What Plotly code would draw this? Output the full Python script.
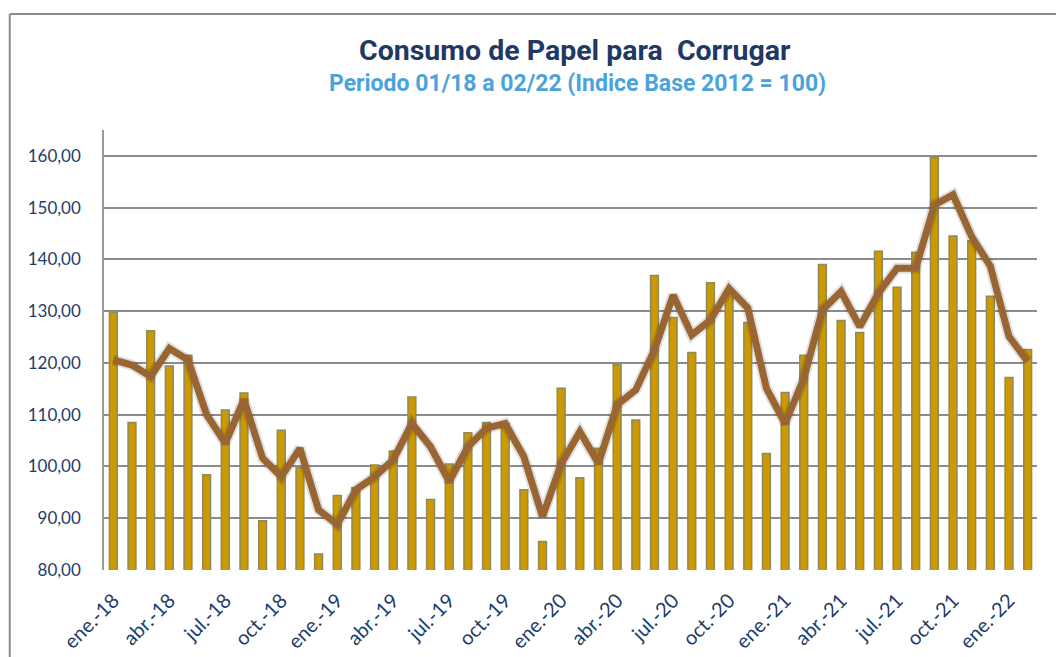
import plotly.graph_objects as go

months = ["ene.", "feb.", "mar.", "abr.", "may.", "jun.", "jul.", "ago.", "sep.", "oct.", "nov.", "dic."]
categories = [f"{m}-{y}" for y in ["18", "19", "20", "21"] for m in months] + ["ene.-22", "feb.-22"]

bar_values = [
    129.8, 108.5, 126.2, 119.4, 121.5, 98.4, 110.9, 114.2, 89.5, 107.0, 99.8, 83.1,
    94.4, 95.9, 100.3, 103.0, 113.4, 93.6, 100.5, 106.5, 108.5, 108.3, 95.5, 85.5,
    115.1, 97.8, 103.5, 119.7, 109.0, 136.9, 128.8, 122.0, 135.5, 134.0, 127.8, 102.5,
    114.3, 121.5, 139.0, 128.2, 125.9, 141.6, 134.6, 141.4, 159.7, 144.5, 143.6, 132.9,
    117.2, 122.6,
]

line_values = [
    120.6, 119.6, 117.4, 122.8, 120.6, 110.0, 104.5, 112.9, 101.6, 98.0, 103.5, 91.6,
    88.8, 95.5, 98.0, 101.3, 108.3, 103.8, 97.1, 103.8, 107.4, 108.3, 101.9, 90.3,
    100.5, 106.7, 100.6, 111.9, 114.8, 122.5, 133.1, 125.4, 128.3, 134.4, 130.6, 115.1,
    108.3, 117.0, 130.2, 133.8, 127.0, 133.5, 138.3, 138.3, 150.5, 152.5, 144.4, 138.7,
    125.1, 120.3,
]

tick_labels = [c for c in categories if c.split("-")[0] in ("ene.", "abr.", "jul.", "oct.")]

title_text = "Consumo de Papel para  Corrugar"
subtitle_text = "Periodo 01/18 a 02/22 (Indice Base 2012 = 100)"

navy = "#1F3C6B"

fig = go.Figure()
fig.add_trace(go.Bar(
    x=categories, y=bar_values, width=0.42,
    marker=dict(color="#CC9900", line=dict(color="#8C8A5E", width=1.5)),
    showlegend=False, hoverinfo="x+y",
))
fig.add_trace(go.Scatter(
    x=categories, y=line_values, mode="lines",
    line=dict(color="rgba(0,0,0,0.12)", width=11),
    showlegend=False, hoverinfo="skip",
))
fig.add_trace(go.Scatter(
    x=categories, y=line_values, mode="lines",
    line=dict(color="#996633", width=7),
    showlegend=False,
))

# page body has an 8px margin: figure is offset by (8, 8)
fig.update_layout(
    width=1056, height=649,
    margin=dict(l=96, r=27, t=122, b=87),
    paper_bgcolor="white", plot_bgcolor="white",
    separators=",.",
    font=dict(family="Lato, 'Open Sans', sans-serif", color=navy),
    xaxis=dict(
        type="category", categoryorder="array", categoryarray=categories,
        tickmode="array", tickvals=tick_labels, ticktext=tick_labels,
        tickangle=-45, tickfont=dict(size=20, color=navy),
        showgrid=False, showline=False, ticks="", ticklabelstandoff=14,
        range=[-0.5, len(categories) - 0.5], automargin=False,
    ),
    yaxis=dict(
        range=[80, 165], tickvals=[80, 90, 100, 110, 120, 130, 140, 150, 160],
        tickformat=".2f", tickfont=dict(size=17, color=navy),
        showgrid=True, gridcolor="#8C8C8C", gridwidth=1.5,
        showline=True, linecolor="#9A9A9A", linewidth=1.5,
        zeroline=False, ticks="", ticklabelstandoff=18, automargin=False,
    ),
    annotations=[
        dict(text=f"<b>{title_text}</b>", xref="paper", yref="paper", x=0.505, y=1.18,
             showarrow=False, xanchor="center", yanchor="middle",
             font=dict(family="Roboto, sans-serif", size=28.5, color="#1F3864")),
        dict(text=f"<b>{subtitle_text}</b>", xref="paper", yref="paper", x=0.507, y=1.105,
             showarrow=False, xanchor="center", yanchor="middle",
             font=dict(family="Roboto, sans-serif", size=23, color="#4BA3DB")),
    ],
    shapes=[
        dict(type="line", xref="paper", yref="paper", x0=-0.101, x1=-0.101, y0=-0.25, y1=1.2636,
             line=dict(color="#8C8C8C", width=2)),
        dict(type="line", xref="paper", yref="paper", x0=-0.101, x1=1.04, y0=1.2636, y1=1.2636,
             line=dict(color="#8C8C8C", width=2)),
    ],
)

fig.write_html("out.html")
